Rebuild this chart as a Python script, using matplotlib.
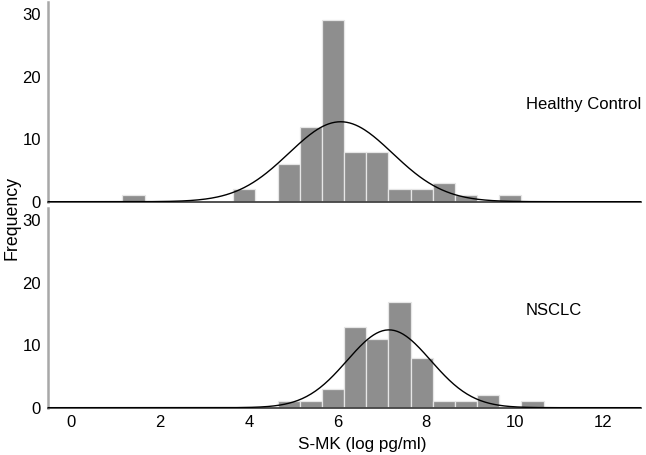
import matplotlib
matplotlib.use("Agg")
import matplotlib.pyplot as plt
import numpy as np

plt.rcParams["font.family"] = ["Liberation Sans", "DejaVu Sans"]

# histogram bins (log pg/ml), width 0.5
bin_left = [1.15, 1.65, 2.15, 2.65, 3.15, 3.65, 4.15, 4.65, 5.15, 5.65,
            6.15, 6.65, 7.15, 7.65, 8.15, 8.65, 9.15, 9.65, 10.15]
bin_width = 0.5

healthy_counts = [1, 0, 0, 0, 0, 2, 0, 6, 12, 29, 8, 8, 2, 2, 3, 1, 0, 1, 0]
nsclc_counts = [0, 0, 0, 0, 0, 0, 0, 1, 1, 3, 13, 11, 17, 8, 1, 1, 2, 0, 1]

panels = [("Healthy Control", healthy_counts), ("NSCLC", nsclc_counts)]

bar_color = "#8e8e8e"
x_lim = (-0.53, 12.85)
y_lim = (0, 32)

fig = plt.figure(figsize=(6.46, 4.55), dpi=100)
ax_top = fig.add_axes([0.0743, 0.5567, 0.918, 0.4396])
ax_bot = fig.add_axes([0.0743, 0.1040, 0.918, 0.4389])

edges = np.array(bin_left)
centers = edges + bin_width / 2
xs = np.linspace(x_lim[0], x_lim[1], 400)

for ax, (name, counts) in zip([ax_top, ax_bot], panels):
    counts = np.array(counts, dtype=float)
    ax.bar(edges, counts, width=bin_width, align="edge", color=bar_color,
           edgecolor="#e6e6e6", linewidth=0.9, zorder=2)

    # fitted normal curve from the binned data
    n = counts.sum()
    mean = (centers * counts).sum() / n
    sd = np.sqrt(((centers - mean) ** 2 * counts).sum() / (n - 1))
    curve = n * bin_width / (sd * np.sqrt(2 * np.pi)) * np.exp(-0.5 * ((xs - mean) / sd) ** 2)
    ax.plot(xs, curve, color="black", linewidth=1.0, zorder=3)

    ax.text(10.25, 15.5, name, fontsize=12, va="center", ha="left")

    ax.set_xlim(*x_lim)
    ax.set_ylim(*y_lim)
    ax.set_yticks([0, 10, 20, 30])
    ax.set_xticks([0, 2, 4, 6, 8, 10, 12])
    ax.tick_params(length=0, labelsize=12, pad=5)
    for side in ("top", "right"):
        ax.spines[side].set_visible(False)
    ax.spines["left"].set_color("#a8a8a8")
    ax.spines["left"].set_linewidth(1.8)
    ax.spines["bottom"].set_color("#444444")
    ax.spines["bottom"].set_linewidth(1.3)

ax_top.tick_params(labelbottom=False)

fig.text(12 / 646, 1 - 218 / 455, "Frequency", rotation=90, fontsize=12.8,
         ha="center", va="center")
fig.text(362 / 646, 1 - 444 / 455, "S-MK (log pg/ml)", fontsize=12.3,
         ha="center", va="center")

fig.savefig("out.png", dpi=100)
